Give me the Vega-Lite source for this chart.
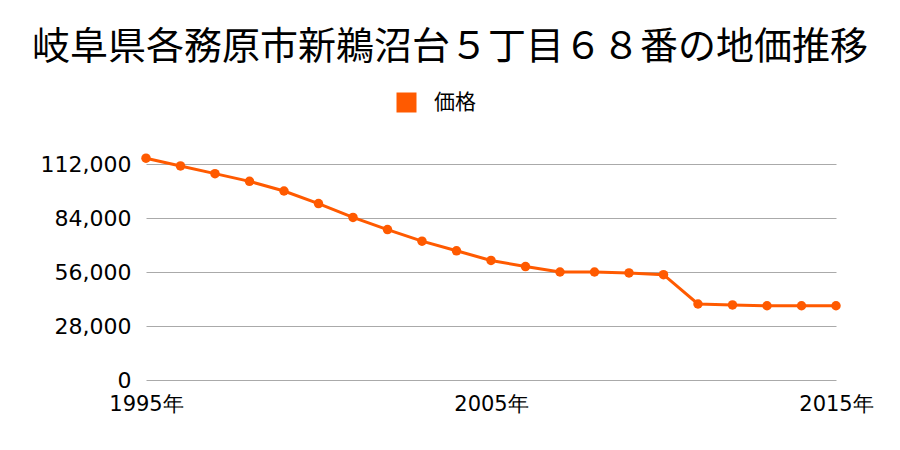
{
  "$schema": "https://vega.github.io/schema/vega-lite/v6.json",
  "width": 690,
  "height": 216,
  "autosize": "none",
  "padding": {"left": 146, "top": 164, "right": 64, "bottom": 70},
  "background": "white",
  "config": {"font": "Noto Sans CJK JP", "view": {"stroke": null}},
  "title": {
    "text": "岐阜県各務原市新鵜沼台５丁目６８番の地価推移",
    "fontSize": 38,
    "fontWeight": "normal",
    "color": "#000000",
    "anchor": "middle",
    "frame": "group",
    "dx": -41,
    "offset": 25
  },
  "data": {
    "values": [
      {"year": 1995, "price": 115000, "label": "価格"},
      {"year": 1996, "price": 111000, "label": "価格"},
      {"year": 1997, "price": 107000, "label": "価格"},
      {"year": 1998, "price": 103000, "label": "価格"},
      {"year": 1999, "price": 98000, "label": "価格"},
      {"year": 2000, "price": 91500, "label": "価格"},
      {"year": 2001, "price": 84300, "label": "価格"},
      {"year": 2002, "price": 78000, "label": "価格"},
      {"year": 2003, "price": 72000, "label": "価格"},
      {"year": 2004, "price": 67000, "label": "価格"},
      {"year": 2005, "price": 62000, "label": "価格"},
      {"year": 2006, "price": 58800, "label": "価格"},
      {"year": 2007, "price": 56000, "label": "価格"},
      {"year": 2008, "price": 56000, "label": "価格"},
      {"year": 2009, "price": 55500, "label": "価格"},
      {"year": 2010, "price": 54600, "label": "価格"},
      {"year": 2011, "price": 39400, "label": "価格"},
      {"year": 2012, "price": 38900, "label": "価格"},
      {"year": 2013, "price": 38500, "label": "価格"},
      {"year": 2014, "price": 38500, "label": "価格"},
      {"year": 2015, "price": 38500, "label": "価格"}
    ]
  },
  "mark": {"type": "line", "strokeWidth": 3, "clip": false, "point": {"size": 90, "filled": true, "opacity": 1}},
  "encoding": {
    "x": {
      "field": "year",
      "type": "quantitative",
      "scale": {"domain": [1995, 2015], "nice": false, "zero": false},
      "axis": {
        "title": null,
        "values": [1995, 2005, 2015],
        "labelExpr": "datum.value + '年'",
        "grid": false,
        "domain": false,
        "ticks": false,
        "labelFont": "DejaVu Sans",
        "labelFontSize": 21,
        "labelColor": "#000000",
        "labelPadding": 13,
        "labelFlush": false
      }
    },
    "y": {
      "field": "price",
      "type": "quantitative",
      "scale": {"domain": [0, 112000], "nice": false},
      "axis": {
        "title": null,
        "values": [0, 28000, 56000, 84000, 112000],
        "format": ",d",
        "grid": true,
        "gridColor": "#aaaaaa",
        "gridWidth": 1,
        "domain": false,
        "ticks": false,
        "labelFont": "DejaVu Sans",
        "labelFontSize": 22,
        "labelColor": "#000000",
        "labelPadding": 15
      }
    },
    "color": {
      "field": "label",
      "type": "nominal",
      "scale": {"range": ["#ff5a00"]},
      "legend": {
        "title": null,
        "orient": "none",
        "legendX": 250,
        "legendY": -72,
        "symbolType": "square",
        "symbolSize": 400,
        "symbolStrokeWidth": 0,
        "labelFontSize": 21,
        "labelColor": "#000000",
        "labelOffset": 17
      }
    }
  }
}
